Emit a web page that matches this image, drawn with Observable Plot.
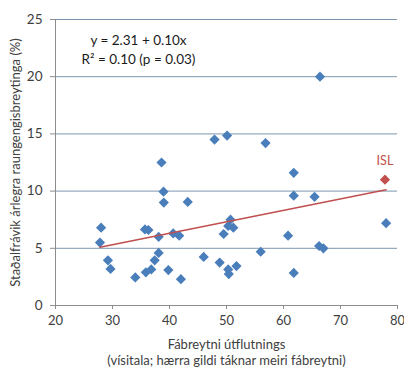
<!DOCTYPE html>
<html>
<head>
<meta charset="utf-8">
<script src="https://cdn.jsdelivr.net/npm/d3@7"></script>
<script src="https://cdn.jsdelivr.net/npm/@observablehq/plot@0.6"></script>
<style>
  html, body { margin: 0; padding: 0; background: #fff; }
  #chart svg { display: block; }
</style>
</head>
<body>
<div id="chart"></div>
<script>
// Data
const xValues = [28.0, 27.8, 29.2, 29.65, 34.0, 35.7, 36.3, 38.1, 38.1, 37.4, 36.8, 35.85, 39.8, 42.0, 40.65, 41.7, 38.95, 39.0, 43.2, 38.6, 47.9, 50.1, 56.85, 61.8, 61.8, 65.45, 66.4, 78.0, 50.7, 50.3, 51.2, 49.5, 60.8, 46.0, 48.8, 50.3, 50.4, 51.75, 56.0, 66.25, 67.0, 61.8];
const yValues = [6.8, 5.5, 3.95, 3.2, 2.45, 6.65, 6.6, 6.0, 4.6, 3.95, 3.15, 2.9, 3.1, 2.3, 6.3, 6.1, 9.95, 9.0, 9.05, 12.5, 14.5, 14.85, 14.2, 11.6, 9.6, 9.5, 20.0, 7.2, 7.5, 6.95, 6.8, 6.25, 6.1, 4.25, 3.75, 3.15, 2.75, 3.45, 4.7, 5.2, 5.0, 2.85];
const islLabel = ["ISL"];
const islX = [77.8];
const islY = [11.0];
const fitIntercept = 2.31;
const fitSlope = 0.10;
const fitText = ["y = 2.31 + 0.10x\nR² = 0.10 (p = 0.03)"];
const xTicks = [20, 30, 40, 50, 60, 70, 80];
const yTicks = [0, 5, 10, 15, 20, 25];
const xTitle = ["Fábreytni útflutnings\n(vísitala; hærra gildi táknar meiri fábreytni)"];
const yTitle = ["Staðalfrávik árlegra raungengisbreytinga (%)"];

const points = xValues.map((x, i) => ({x, y: yValues[i]}));
const isl = islLabel.map((name, i) => ({name, x: islX[i], y: islY[i]}));
const allX = xValues.concat(islX);
const [x0, x1] = d3.extent(allX);
const fitLine = [x0, x1].map(x => ({x, y: fitIntercept + fitSlope * x}));

const font = "Lato, 'Open Sans', sans-serif";
const blue = "#4a7ebb";
const red = "#c0504d";
const grid = "#7d97b0";
const axisGrey = "#8c8c8c";
const textGrey = "#404040";

const chart = Plot.plot({
  width: 404,
  height: 369,
  marginLeft: 55,
  marginRight: 7,
  marginTop: 19,
  marginBottom: 64,
  style: {fontFamily: font, background: "#fff", color: textGrey},
  x: {domain: [20, 80], ticks: xTicks},
  y: {domain: [0, 25], ticks: yTicks},
  marks: [
    Plot.gridY(yTicks.filter(d => d > 0), {stroke: grid, strokeOpacity: 1, strokeWidth: 1}),
    Plot.ruleX([20], {stroke: axisGrey}),
    Plot.ruleY([0], {stroke: axisGrey}),
    Plot.axisY({ticks: yTicks, tickSize: 5, tickPadding: 8, stroke: axisGrey, fontSize: 13.5, fill: textGrey, label: null}),
    Plot.axisX({ticks: xTicks, tickSize: 4, tickPadding: 6, stroke: axisGrey, fontSize: 13, fill: textGrey, label: null}),
    Plot.dot(points, {x: "x", y: "y", symbol: "diamond2", r: 4.6, fill: blue, stroke: null}),
    Plot.dot(isl, {x: "x", y: "y", symbol: "diamond2", r: 4.6, fill: red, stroke: null}),
    Plot.line(fitLine, {x: "x", y: "y", stroke: red, strokeWidth: 1.5}),
    Plot.text(isl, {x: "x", y: "y", text: "name", dy: -19, fill: red, fontSize: 12.5}),
    Plot.text(fitText, {frameAnchor: "top-left", dx: 83, dy: 13, textAnchor: "middle", lineAnchor: "top", lineHeight: 1.35, fontSize: 13.5, fill: "#1a1a1a"}),
    Plot.text(xTitle, {frameAnchor: "bottom", dy: 31, lineAnchor: "top", lineHeight: 1.3, fontSize: 13, fill: textGrey}),
    Plot.text(yTitle, {frameAnchor: "left", dx: -40, rotate: -90, textAnchor: "middle", fontSize: 13, fill: textGrey})
  ]
});
document.getElementById("chart").appendChild(chart);
</script>
</body>
</html>
